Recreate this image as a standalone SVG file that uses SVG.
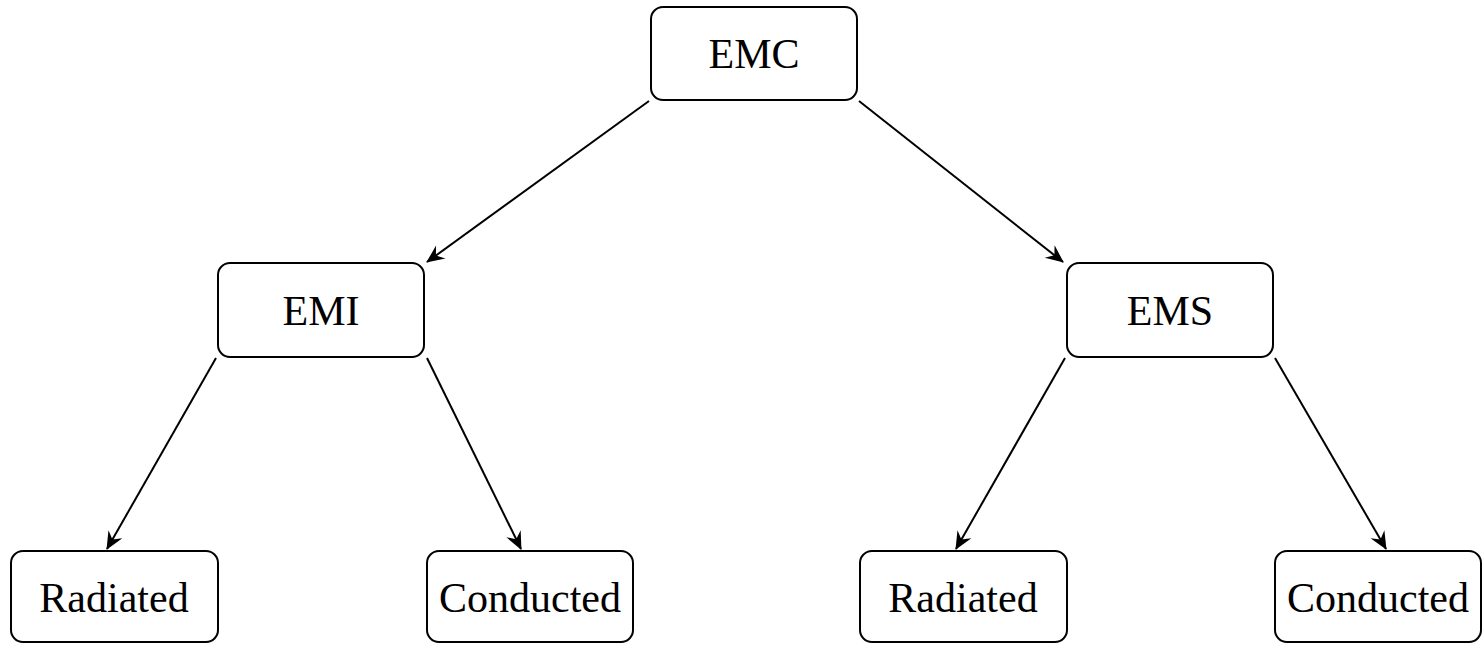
<svg xmlns="http://www.w3.org/2000/svg" width="1482" height="645" viewBox="0 0 1482 645">
<style>
.box{fill:#fff;stroke:#000;stroke-width:2}
.lbl{font-family:"Liberation Serif","Times New Roman",serif;font-size:42px;fill:#000;text-anchor:middle}
.edge{stroke:#000;stroke-width:2;fill:none;marker-end:url(#ah)}
</style>
<defs>
<marker id="ah" markerUnits="userSpaceOnUse" viewBox="-20 -10 22 20" refX="0" refY="0" markerWidth="22" markerHeight="20" orient="auto">
<path d="M1,0 L-17,-8 L-11,0 L-17,8 Z" fill="#000"/>
</marker>
</defs>
<rect width="1482" height="645" fill="#fff"/>
<g id="edges">
<line class="edge" x1="649" y1="101" x2="427" y2="262"/>
<line class="edge" x1="859" y1="101" x2="1063" y2="262"/>
<line class="edge" x1="216" y1="358" x2="107" y2="549"/>
<line class="edge" x1="427" y1="358" x2="521" y2="549"/>
<line class="edge" x1="1065" y1="358" x2="956" y2="549"/>
<line class="edge" x1="1275" y1="358" x2="1386" y2="549"/>
</g>
<g id="emc"><rect class="box" x="651" y="7" width="206" height="93" rx="12"/><text class="lbl" x="754" y="68">EMC</text></g>
<g id="emi"><rect class="box" x="218" y="263" width="206" height="94" rx="12"/><text class="lbl" x="321" y="325">EMI</text></g>
<g id="ems"><rect class="box" x="1067" y="263" width="206" height="94" rx="12"/><text class="lbl" x="1170" y="325">EMS</text></g>
<g id="rad1"><rect class="box" x="11" y="551" width="207" height="91" rx="12"/><text class="lbl" x="114" y="612">Radiated</text></g>
<g id="con1"><rect class="box" x="427" y="551" width="206" height="91" rx="12"/><text class="lbl" x="530" y="612">Conducted</text></g>
<g id="rad2"><rect class="box" x="860" y="551" width="207" height="91" rx="12"/><text class="lbl" x="963" y="612">Radiated</text></g>
<g id="con2"><rect class="box" x="1275" y="551" width="206" height="91" rx="12"/><text class="lbl" x="1378" y="612">Conducted</text></g>
</svg>
